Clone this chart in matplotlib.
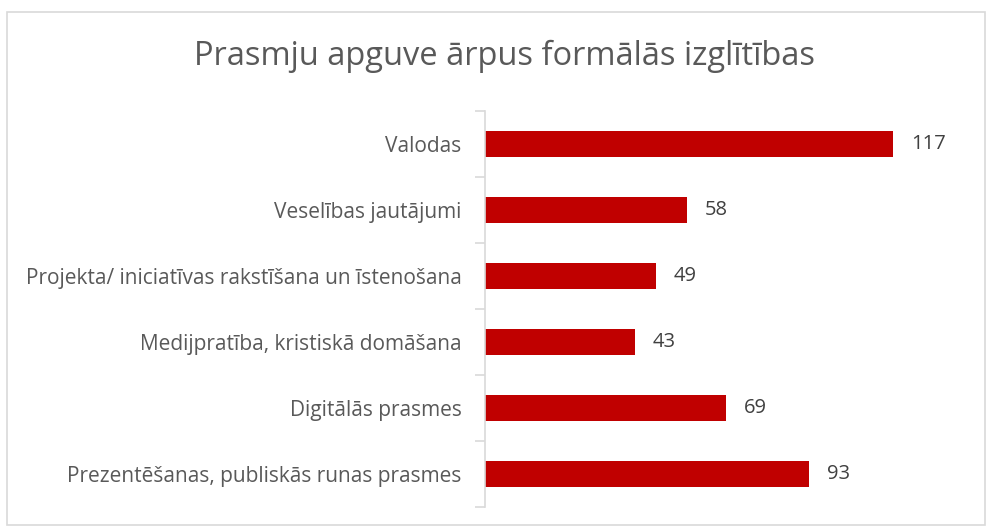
"""Prasmju apguve ārpus formālās izglītības - horizontāls stabiņu grafiks."""

import matplotlib.pyplot as plt
from matplotlib.patches import Rectangle

kategorijas = [
    "Valodas",
    "Veselības jautājumi",
    "Projekta/ iniciatīvas rakstīšana un īstenošana",
    "Medijpratība, kristiskā domāšana",
    "Digitālās prasmes",
    "Prezentēšanas, publiskās runas prasmes",
]
vertibas = [117, 58, 49, 43, 69, 93]

plt.rcParams["font.family"] = ["Open Sans", "DejaVu Sans"]

fig = plt.figure(figsize=(9.92, 5.29), dpi=100)
ax = fig.add_axes([0.4889, 0.0416, 0.492, 0.7486])

poz = list(range(len(kategorijas)))
ax.barh(poz, vertibas, height=0.38, color="#C00000")
ax.set_ylim(len(kategorijas) - 0.5, -0.5)
ax.set_xlim(0, 140)

for y, v in zip(poz, vertibas):
    ax.annotate(str(v), (v, y), xytext=(13, 0), textcoords="offset points",
                va="center", ha="left", fontsize=14.5, color="#404040")

ax.set_yticks(poz)
ax.set_yticklabels(kategorijas, fontsize=15, color="#595959")
ax.set_yticks([p - 0.5 for p in poz] + [len(poz) - 0.5], minor=True)
ax.tick_params(axis="y", which="major", length=0, pad=17)
ax.tick_params(axis="y", which="minor", length=7, width=1.2, color="#D9D9D9")
ax.set_xticks([])

for s in ["top", "right", "bottom"]:
    ax.spines[s].set_visible(False)
ax.spines["left"].set_color("#D9D9D9")
ax.spines["left"].set_linewidth(1.2)

fig.text(0.509, 0.893, "Prasmju apguve ārpus formālās izglītības",
         ha="center", va="center", fontsize=23.5, color="#595959")

fig.patches.append(Rectangle((0.007, 0.008), 0.986, 0.97,
                             transform=fig.transFigure, fill=False,
                             edgecolor="#D9D9D9", linewidth=1.2))

fig.savefig("out.png", dpi=100)
plt.close(fig)
